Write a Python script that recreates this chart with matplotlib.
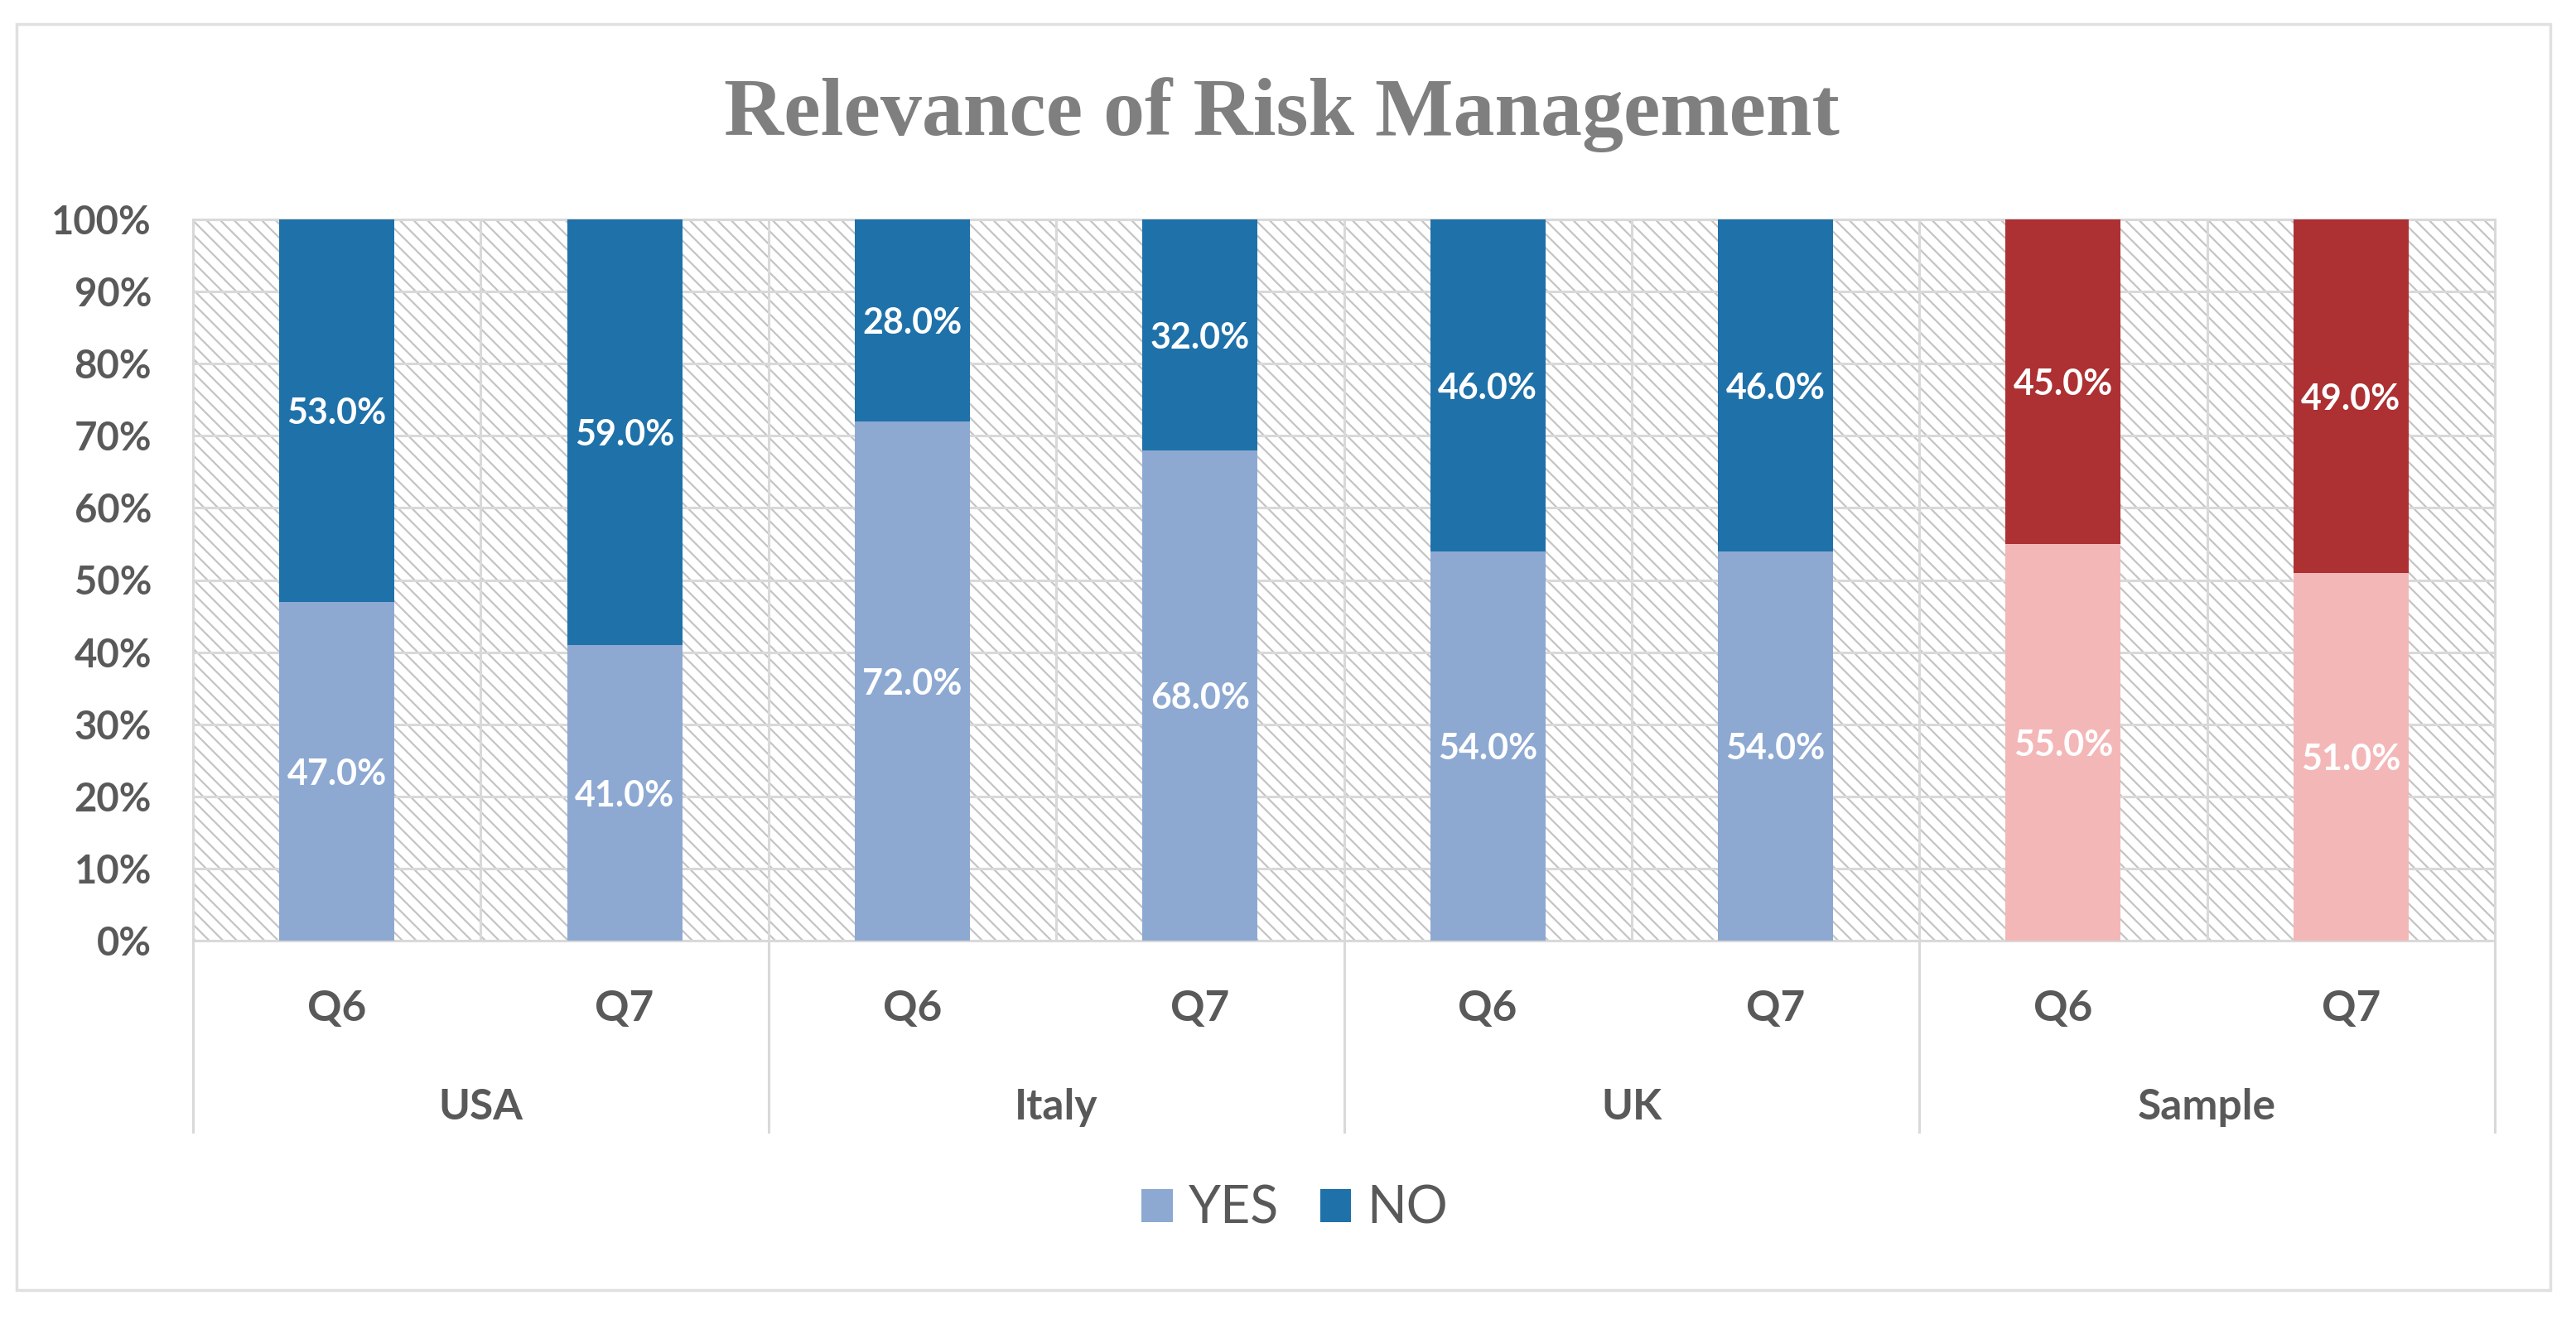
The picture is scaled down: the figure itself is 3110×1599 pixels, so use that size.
import numpy as np
import matplotlib
matplotlib.use("Agg")
import matplotlib.pyplot as plt
from matplotlib.patches import Rectangle, Patch

# data
groups = ["USA", "Italy", "UK", "Sample"]
questions = ["Q6", "Q7", "Q6", "Q7", "Q6", "Q7", "Q6", "Q7"]
yes_vals = [47.0, 41.0, 72.0, 68.0, 54.0, 54.0, 55.0, 51.0]
no_vals = [53.0, 59.0, 28.0, 32.0, 46.0, 46.0, 45.0, 49.0]
y_ticks = [0, 10, 20, 30, 40, 50, 60, 70, 80, 90, 100]

# colours
YES_BLUE = "#8DA9D2"
NO_BLUE = "#1F71A9"
YES_RED = "#F4B7B8"
NO_RED = "#AD3033"
yes_colors = [YES_BLUE] * 6 + [YES_RED] * 2
no_colors = [NO_BLUE] * 6 + [NO_RED] * 2
GRID = "#D9D9D9"
TXT = "#595959"

plt.rcParams["hatch.linewidth"] = 1.6
plt.rcParams["font.family"] = ["Lato", "DejaVu Sans"]

W, H = 3110, 1599
fig = plt.figure(figsize=(W / 100, H / 100), dpi=100)

def fy(px):
    return 1 - px / H

# outer chart border
fig.patches.append(Rectangle((20 / W, fy(1558)), (3079 - 20) / W, (1558 - 29) / H,
                             transform=fig.transFigure, fill=False,
                             edgecolor="#E0E0E0", linewidth=2.5))

# plot area
left, right, top, bottom = 233, 3012, 265, 1136
ax = fig.add_axes([left / W, fy(bottom), (right - left) / W, (bottom - top) / H])

x = np.arange(len(questions))
ax.set_xlim(-0.5, len(questions) - 0.5)
ax.set_ylim(0, 100)

# hatched background of the plot area
ax.add_patch(Rectangle((0, 0), 1, 1, transform=ax.transAxes, facecolor="white",
                       edgecolor="#C4C4C4", hatch="\\\\", linewidth=0, zorder=0))

ax.set_axisbelow(True)
ax.set_xticks(np.arange(-0.5, len(questions), 1))
ax.set_xticklabels([])
ax.set_yticks(y_ticks)
ax.set_yticklabels(["%d%%" % t for t in y_ticks])
ax.grid(True, color=GRID, linewidth=2.2, zorder=1)
ax.tick_params(length=0, pad=36, labelsize=34, labelcolor=TXT)
for lab in ax.get_yticklabels():
    lab.set_fontweight("bold")
for sp in ax.spines.values():
    sp.set_color(GRID)
    sp.set_linewidth(2.2)

bw = 0.4
ax.bar(x, yes_vals, bw, color=yes_colors, zorder=3)
ax.bar(x, no_vals, bw, bottom=yes_vals, color=no_colors, zorder=3)

for i in range(len(questions)):
    ax.text(x[i], yes_vals[i] / 2, "%.1f%%" % yes_vals[i], ha="center",
            va="center_baseline", color="white", fontsize=31, fontweight="bold", zorder=4)
    ax.text(x[i], yes_vals[i] + no_vals[i] / 2, "%.1f%%" % no_vals[i], ha="center",
            va="center_baseline", color="white", fontsize=31, fontweight="bold", zorder=4)

# two-level category axis
trans = ax.get_xaxis_transform()
ph = bottom - top
sep_y = -(1367 - bottom) / ph
for b in np.arange(-0.5, len(questions), 2):
    ax.plot([b, b], [0, sep_y], transform=trans, color=GRID, linewidth=2.2,
            clip_on=False, zorder=1)
for i, q in enumerate(questions):
    ax.text(x[i], -(1233 - bottom) / ph, q, transform=trans, ha="center",
            va="baseline", fontsize=37, fontweight="bold", color=TXT)
for g, name in enumerate(groups):
    ax.text(2 * g + 0.5, -(1352 - bottom) / ph, name, transform=trans, ha="center",
            va="baseline", fontsize=37, fontweight="bold", color=TXT)

# title
fig.text(0.4977, fy(163), "Relevance of Risk Management", ha="center", va="baseline",
         fontsize=72, fontweight="bold", color="#7F7F7F", family="Liberation Serif")

# legend
handles = [Patch(facecolor=YES_BLUE, label="YES"), Patch(facecolor=NO_BLUE, label="NO")]
fig.legend(handles=handles, loc="center", bbox_to_anchor=(1563 / W, fy(1460)),
           ncol=2, frameon=False, fontsize=45, labelcolor=TXT,
           handlelength=0.6, handleheight=0.6, handletextpad=0.3, columnspacing=0.8)

fig.savefig("out.png", dpi=100, facecolor="white")
